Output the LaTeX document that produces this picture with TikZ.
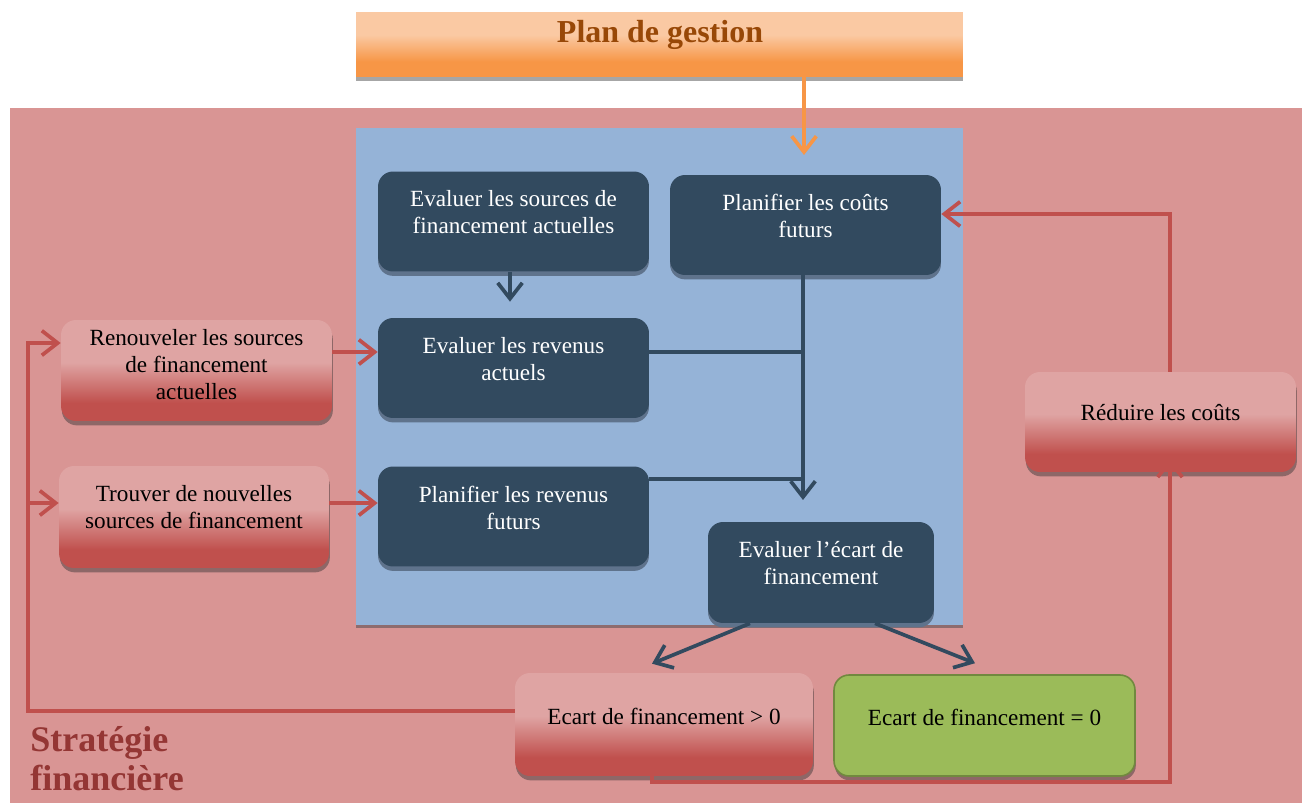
\documentclass[tikz,border=0pt]{standalone}
\usepackage{fontspec}
\setmainfont{Liberation Serif}
\usetikzlibrary{arrows.meta,shadows}
\definecolor{pinkbg}{HTML}{D99594}
\definecolor{bluebg}{HTML}{95B3D7}
\definecolor{darkbox}{HTML}{324A5F}
\definecolor{darkshadow}{HTML}{5F738C}
\definecolor{redline}{HTML}{C0504D}
\definecolor{redlight}{HTML}{DFA4A3}
\definecolor{redshadow}{HTML}{8E6767}
\definecolor{orangeD}{HTML}{F79646}
\definecolor{orangeL}{HTML}{FAC9A3}
\definecolor{titlebrown}{HTML}{984807}
\definecolor{stratred}{HTML}{943634}
\definecolor{greenbox}{HTML}{9BBB59}
\definecolor{greenborder}{HTML}{71893F}
\definecolor{blueshadow}{HTML}{8E6C6E}
\pgfdeclareverticalshading{redgrad}{100bp}{color(0bp)=(redline); color(34bp)=(redline); color(54bp)=(redlight); color(100bp)=(redlight)}
\pgfdeclareverticalshading{orangegrad}{100bp}{color(0bp)=(orangeD); color(37bp)=(orangeD); color(58bp)=(orangeL); color(100bp)=(orangeL)}
\tikzset{
  darkb/.style={fill=darkbox, rounded corners=0.3cm, minimum width=5.42cm, minimum height=2cm, inner sep=0pt,
    drop shadow={shadow xshift=0pt, shadow yshift=-2.5pt, fill=darkshadow, opacity=1}},
  redb/.style={shade, shading=redgrad, rounded corners=0.3cm, minimum width=5.42cm, minimum height=2.02cm, inner sep=0pt,
    drop shadow={shadow xshift=0.5pt, shadow yshift=-2.5pt, fill=redshadow, opacity=1}},
  greenb/.style={fill=greenbox, draw=greenborder, line width=0.9pt, rounded corners=0.3cm, minimum width=6.02cm, minimum height=2.02cm, inner sep=0pt,
    drop shadow={shadow xshift=0.5pt, shadow yshift=-2.5pt, fill=redshadow, opacity=1}},
  wtxt/.style={text=white, align=center, font=\fontsize{13.2}{15.4}\selectfont},
  btxt/.style={text=black, align=center, font=\fontsize{13.2}{15.4}\selectfont},
  tip/.style={-{Straight Barb[length=9pt,width=14pt]}},
  darkarr/.style={draw=darkbox, line width=2.1pt, tip},
  darkln/.style={draw=darkbox, line width=2.1pt},
  redarr/.style={draw=redline, line width=2.1pt, tip},
  orangearr/.style={draw=orangeD, line width=2.1pt, tip},
}
\begin{document}
\begin{tikzpicture}[x={(0.02cm,0)}, y={(0,-0.02cm)}]
\fill[white] (0,0) rectangle (1302,803);
\useasboundingbox (0,0) rectangle (1302,803);
% regions
\fill[pinkbg] (10,108) rectangle (1302,803);
\fill[blueshadow] (356,128) rectangle (963,628);
\fill[bluebg] (356,128) rectangle (963,625);
% title
\node[shade, shading=orangegrad, minimum width=12.14cm, minimum height=1.28cm, inner sep=0pt,
  drop shadow={shadow xshift=0pt, shadow yshift=-2.2pt, fill=black!35, opacity=1}] (plan) at (659.5,45) {};
\node[anchor=base, text=titlebrown, font=\bfseries\fontsize{18.2}{20}\selectfont] (plant) at (660,43) {Plan de gestion};
% dark boxes
\node[darkb] (src) at (513.5,221.5) {};
\node[wtxt] (srct) at ([yshift=0.19cm]src.center) {Evaluer les sources de\\financement actuelles};
\node[darkb] (pcf) at (805.5,225) {};
\node[wtxt] (pcft) at ([yshift=0.18cm]pcf.center) {Planifier les coûts\\futurs};
\node[darkb] (rev) at (513.5,368) {};
\node[wtxt] (revt) at ([yshift=0.18cm]rev.center) {Evaluer les revenus\\actuels};
\node[darkb] (prf) at (513.5,516.5) {};
\node[wtxt] (prft) at ([yshift=0.18cm]prf.center) {Planifier les revenus\\futurs};
\node[darkb, minimum width=4.52cm, minimum height=2.02cm] (ecart) at (821,572.5) {};
\node[wtxt] (ecartt) at ([yshift=0.19cm]ecart.center) {Evaluer l’écart de\\financement};
% red boxes
\node[redb] (ren) at (196.5,370.5) {};
\node[btxt] (rent) at ([yshift=0.11cm]ren.center) {Renouveler les sources\\de financement\\actuelles};
\node[redb, minimum width=5.4cm, minimum height=2.04cm] (trv) at (194,517) {};
\node[btxt] (trvt) at ([yshift=0.19cm]trv.center) {Trouver de nouvelles\\sources de financement};
\node[redb, minimum height=2cm] (red) at (1160.5,422) {};
\node[btxt] (redt) at ([yshift=0.18cm]red.center) {Réduire les coûts};
\node[redb, minimum width=5.96cm, minimum height=2.06cm] (gt) at (664,724.5) {};
\node[btxt] (gtt) at ([yshift=0.17cm]gt.center) {Ecart de financement > 0};
\node[greenb] (eq) at (984.5,725.5) {};
\node[btxt] (eqt) at ([yshift=0.17cm]eq.center) {Ecart de financement = 0};
% strategy label
\node[anchor=base west, align=left, inner sep=0pt, text=stratred, font=\bfseries\fontsize{20.5}{21.8}\selectfont] (strat) at (30,790) {Stratégie\\financière};
% orange arrow
\coordinate (oin) at (804,155);
\draw[orangearr] (plan.south -| oin) -- (oin);
% dark connectors
\coordinate (s1) at ([xshift=-0.07cm]src.south);
\coordinate (s2) at ([xshift=-0.07cm, yshift=0.32cm]rev.north);
\draw[darkarr] (s1) -- (s2);
\coordinate (jx) at (803,500);
\draw[darkarr] (pcf.south -| jx) -- (jx);
\coordinate (r1) at ([yshift=0.32cm]rev.east);
\draw[darkln] (r1) -- (r1 -| jx);
\coordinate (p1) at ([yshift=0.75cm]prf.east);
\draw[darkln] (p1) -- (p1 -| jx);
\coordinate (e1) at ([xshift=-1.42cm]ecart.south);
\coordinate (e2) at ([xshift=1.08cm]ecart.south);
\coordinate (g1) at ([xshift=-0.24cm, yshift=0.18cm]gt.north);
\coordinate (q1) at ([xshift=-0.19cm, yshift=0.22cm]eq.north);
\draw[darkarr] (e1) -- (g1);
\draw[darkarr] (e2) -- (q1);
% red connectors
\coordinate (ro) at ([yshift=0.37cm]ren.east);
\draw[redarr] (ro) -- (ro -| rev.west);
\coordinate (to) at ([yshift=0.28cm]trv.east);
\draw[redarr] (to) -- (to -| prf.west);
\coordinate (lx) at (28,711);
\coordinate (renin) at ([yshift=0.55cm]ren.west);
\coordinate (trvin) at ([yshift=0.28cm]trv.west);
\draw[redarr] (gt.west |- lx) -- (lx) -- (lx |- renin) -- (renin);
\draw[redarr] (lx |- trvin) -- (trvin);
\coordinate (gtout) at (652,762);
\coordinate (bl) at (652,782);
\coordinate (rin) at ([xshift=0.19cm, yshift=0.28cm]red.south);
\draw[redarr] (gtout) -- (bl) -- (bl -| rin) -- (rin);
\coordinate (rtop) at ([xshift=0.19cm]red.north);
\coordinate (pin) at ([yshift=0.22cm]pcf.east);
\draw[redarr] (rtop) -- (rtop |- pin) -- (pin);
\end{tikzpicture}
\end{document}
